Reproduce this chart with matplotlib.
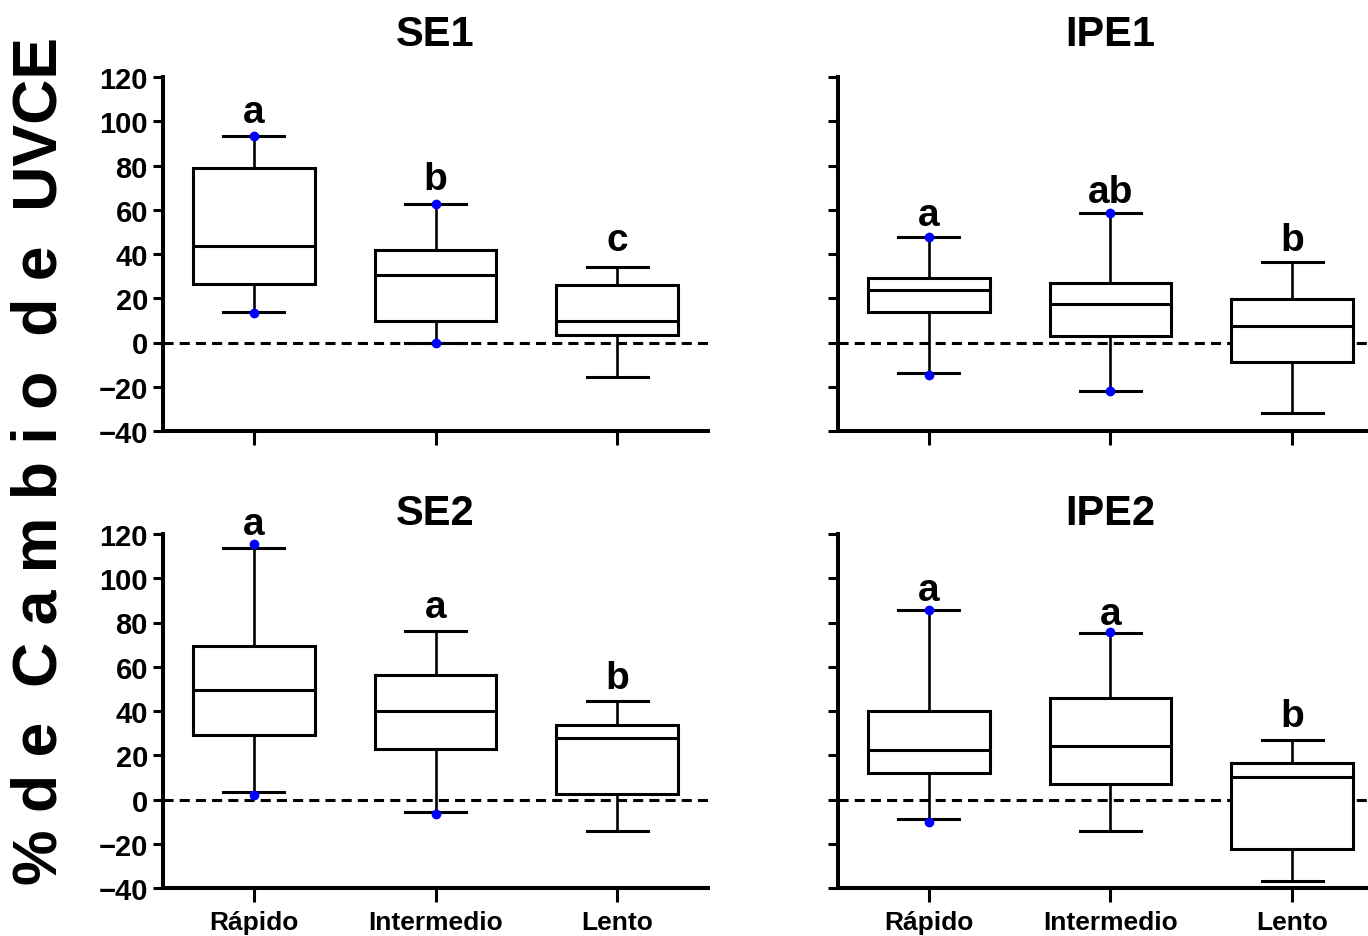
import matplotlib.pyplot as plt

plt.rcParams['font.family'] = ['Liberation Sans', 'DejaVu Sans']
plt.rcParams['font.weight'] = 'bold'

groups = ['Rápido', 'Intermedio', 'Lento']

# per group: whisker low, Q1, median, Q3, whisker high
se1_stats = [[13.7, 26.4, 43.8, 78.9, 93.3],
             [0.0, 9.8, 30.4, 41.6, 62.8],
             [-15.6, 3.2, 9.8, 26.0, 33.9]]
ipe1_stats = [[-13.6, 13.7, 23.8, 29.2, 47.6],
              [-21.8, 2.9, 17.2, 27.0, 58.4],
              [-31.9, -8.8, 7.3, 19.5, 36.6]]
se2_stats = [[3.4, 29.2, 49.7, 69.5, 113.7],
             [-5.6, 22.8, 39.9, 56.1, 76.3],
             [-14.1, 2.3, 27.6, 33.6, 44.6]]
ipe2_stats = [[-8.8, 12.1, 22.2, 39.9, 85.8],
              [-14.4, 6.9, 24.1, 45.8, 75.4],
              [-37.0, -22.3, 10.2, 16.3, 26.8]]

# highlighted individual points (blue)
se1_points = [[93.3, 13.3], [62.8, 0.0], []]
ipe1_points = [[47.7, -14.5], [58.4, -22.0], []]
se2_points = [[115.5, 1.9], [-6.4], []]
ipe2_points = [[85.8, -10.3], [75.8], []]

# significance letters and their baseline heights
se1_letters = ['a', 'b', 'c']
se1_letter_y = [99.7, 69.6, 41.8]
ipe1_letters = ['a', 'ab', 'b']
ipe1_letter_y = [53.3, 63.7, 41.6]
se2_letters = ['a', 'a', 'b']
se2_letter_y = [120.0, 82.6, 50.5]
ipe2_letters = ['a', 'a', 'b']
ipe2_letter_y = [90.0, 79.3, 33.1]

panels = [
    ('SE1', se1_stats, se1_points, se1_letters, se1_letter_y),
    ('IPE1', ipe1_stats, ipe1_points, ipe1_letters, ipe1_letter_y),
    ('SE2', se2_stats, se2_points, se2_letters, se2_letter_y),
    ('IPE2', ipe2_stats, ipe2_points, ipe2_letters, ipe2_letter_y),
]

W, H = 1368, 937
fig = plt.figure(figsize=(W / 100, H / 100), dpi=100)

# axes corners in pixels (left, top), each 545 x 354
corners = [(163, 78), (838, 78), (163, 535), (838, 535)]
title_y = [1.09, 1.09, 1.028, 1.028]

for k, (name, stats, points, letters, letter_y) in enumerate(panels):
    left, top = corners[k]
    ax = fig.add_axes([left / W, 1 - (top + 354) / H, 545 / W, 354 / H])

    ax.axhline(0, color='black', lw=2.2, ls=(0, (3.3, 2)), zorder=1)

    boxes = [dict(label=g, whislo=s[0], q1=s[1], med=s[2], q3=s[3], whishi=s[4], fliers=[])
             for g, s in zip(groups, stats)]
    ax.bxp(boxes, positions=[0, 1, 2], widths=0.67, patch_artist=True, showfliers=False,
           boxprops=dict(facecolor='white', edgecolor='black', linewidth=2.2),
           medianprops=dict(color='black', linewidth=2.2),
           whiskerprops=dict(color='black', linewidth=1.9),
           capprops=dict(color='black', linewidth=2.2),
           zorder=3)

    for i, pts in enumerate(points):
        if pts:
            ax.plot([i] * len(pts), pts, 'o', color='#0000ff', ms=6, zorder=5, clip_on=False)

    for i, (lab, y) in enumerate(zip(letters, letter_y)):
        ax.text(i, y, lab, ha='center', va='baseline', fontsize=28,
                fontweight='bold', zorder=6, clip_on=False)

    ax.text(0.5, title_y[k], name, transform=ax.transAxes, ha='center',
            va='baseline', fontsize=30, fontweight='bold')

    ax.set_xlim(-0.5, 2.5)
    ax.set_ylim(-40, 120)
    ax.set_yticks(range(-40, 121, 20))
    ax.set_xticks([0, 1, 2])
    ax.set_xticklabels(groups)
    for side in ['top', 'right']:
        ax.spines[side].set_visible(False)
    for side in ['left', 'bottom']:
        ax.spines[side].set_linewidth(2.9)
    ax.tick_params(axis='y', length=7.2, width=2.2, pad=3.6, labelsize=21)
    ax.tick_params(axis='x', length=10, width=2.2, pad=6, labelsize=19)
    if k % 2 == 1:
        ax.tick_params(labelleft=False)
    if k < 2:
        ax.tick_params(labelbottom=False)

fig.text(0.029, 0.5075, '% d e  C a m b i o  d e  UVCE', rotation=90,
         ha='center', va='center', fontsize=45, fontweight='bold')

fig.savefig('out.png', dpi=100)
